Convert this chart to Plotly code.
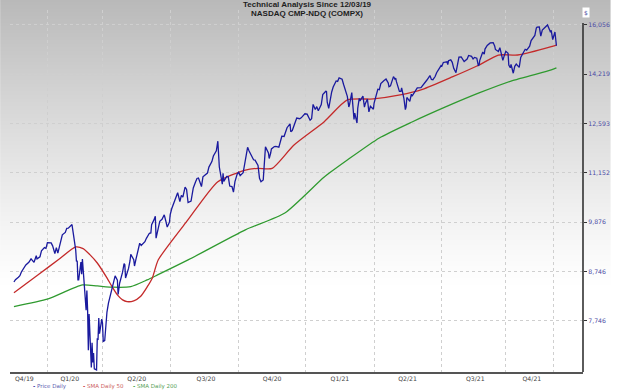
import zlib, struct, base64
import plotly.graph_objects as go

# ---------------- data ----------------
price_dates = [
    "2019-12-03","2019-12-05","2019-12-09","2019-12-11","2019-12-13","2019-12-17","2019-12-19","2019-12-23","2019-12-26","2019-12-30",
    "2020-01-02","2020-01-03","2020-01-07","2020-01-09","2020-01-13","2020-01-15","2020-01-17","2020-01-22","2020-01-24","2020-01-27","2020-01-29","2020-01-31",
    "2020-02-04","2020-02-06","2020-02-10","2020-02-12","2020-02-14","2020-02-19","2020-02-21","2020-02-24","2020-02-25","2020-02-26","2020-02-27","2020-02-28",
    "2020-03-02","2020-03-03","2020-03-04","2020-03-05","2020-03-06","2020-03-09","2020-03-10","2020-03-11","2020-03-12","2020-03-13","2020-03-16","2020-03-17","2020-03-18","2020-03-19","2020-03-20","2020-03-23","2020-03-24","2020-03-25","2020-03-26","2020-03-27","2020-03-30","2020-03-31",
    "2020-04-01","2020-04-03","2020-04-06","2020-04-08","2020-04-09","2020-04-14","2020-04-17","2020-04-20","2020-04-21","2020-04-23","2020-04-27","2020-04-29","2020-04-30",
    "2020-05-01","2020-05-05","2020-05-07","2020-05-08","2020-05-12","2020-05-13","2020-05-15","2020-05-18","2020-05-20","2020-05-22","2020-05-27","2020-05-29",
    "2020-06-02","2020-06-04","2020-06-05","2020-06-08","2020-06-10","2020-06-11","2020-06-12","2020-06-16","2020-06-19","2020-06-22","2020-06-24","2020-06-26","2020-06-29","2020-06-30",
    "2020-07-02","2020-07-06","2020-07-09","2020-07-10","2020-07-13","2020-07-15","2020-07-17","2020-07-20","2020-07-22","2020-07-23","2020-07-24","2020-07-28","2020-07-30","2020-07-31",
    "2020-08-03","2020-08-05","2020-08-07","2020-08-11","2020-08-13","2020-08-17","2020-08-19","2020-08-21","2020-08-25","2020-08-27","2020-08-31",
    "2020-09-02","2020-09-03","2020-09-04","2020-09-08","2020-09-09","2020-09-10","2020-09-14","2020-09-16","2020-09-18","2020-09-21","2020-09-23","2020-09-25","2020-09-28","2020-09-30",
    "2020-10-02","2020-10-06","2020-10-08","2020-10-12","2020-10-14","2020-10-16","2020-10-20","2020-10-22","2020-10-26","2020-10-28","2020-10-30",
    "2020-11-02","2020-11-04","2020-11-05","2020-11-09","2020-11-10","2020-11-12","2020-11-13","2020-11-17","2020-11-19","2020-11-23","2020-11-25","2020-11-27","2020-11-30",
    "2020-12-02","2020-12-04","2020-12-08","2020-12-09","2020-12-11","2020-12-15","2020-12-17","2020-12-21","2020-12-23","2020-12-28","2020-12-31",
    "2021-01-04","2021-01-06","2021-01-08","2021-01-11","2021-01-13","2021-01-15","2021-01-19","2021-01-21","2021-01-25","2021-01-26","2021-01-27","2021-01-29",
    "2021-02-02","2021-02-04","2021-02-08","2021-02-10","2021-02-12","2021-02-16","2021-02-18","2021-02-22","2021-02-23","2021-02-25","2021-02-26",
    "2021-03-01","2021-03-03","2021-03-04","2021-03-05","2021-03-08","2021-03-09","2021-03-11","2021-03-12","2021-03-16","2021-03-18","2021-03-19","2021-03-22","2021-03-24","2021-03-26","2021-03-30","2021-03-31",
    "2021-04-05","2021-04-07","2021-04-09","2021-04-13","2021-04-15","2021-04-16","2021-04-19","2021-04-20","2021-04-22","2021-04-26","2021-04-28","2021-04-29","2021-04-30",
    "2021-05-04","2021-05-06","2021-05-07","2021-05-10","2021-05-12","2021-05-13","2021-05-14","2021-05-18","2021-05-20","2021-05-21","2021-05-25","2021-05-27","2021-05-28",
    "2021-06-02","2021-06-04","2021-06-08","2021-06-10","2021-06-14","2021-06-16","2021-06-18","2021-06-21","2021-06-23","2021-06-25","2021-06-29","2021-06-30",
    "2021-07-02","2021-07-07","2021-07-08","2021-07-09","2021-07-12","2021-07-14","2021-07-16","2021-07-19","2021-07-21","2021-07-23","2021-07-26","2021-07-28","2021-07-30",
    "2021-08-03","2021-08-05","2021-08-09","2021-08-11","2021-08-13","2021-08-16","2021-08-18","2021-08-19","2021-08-20","2021-08-24","2021-08-26","2021-08-27","2021-08-30",
    "2021-09-01","2021-09-03","2021-09-07","2021-09-09","2021-09-10","2021-09-14","2021-09-16","2021-09-17","2021-09-20","2021-09-22","2021-09-24","2021-09-27","2021-09-28","2021-09-30",
    "2021-10-01","2021-10-04","2021-10-06","2021-10-08","2021-10-12","2021-10-14","2021-10-18","2021-10-20","2021-10-22","2021-10-26","2021-10-28","2021-10-29",
    "2021-11-02","2021-11-04","2021-11-05","2021-11-08","2021-11-10","2021-11-12","2021-11-16","2021-11-18","2021-11-19","2021-11-22","2021-11-23","2021-11-24","2021-11-26","2021-11-29","2021-11-30",
    "2021-12-01",
]
price_values = [
    8521,8570,8622,8654,8735,8823,8887,8946,9022,8945,
    9092,9021,9068,9203,9274,9259,9389,9383,9315,9139,9275,9151,
    9467,9572,9628,9726,9731,9817,9577,9221,8966,8980,8567,8567,
    8952,8684,9019,8738,8576,7950,8344,7953,7201,7875,6904,7335,6989,7150,6880,6861,7418,7384,7798,7502,7774,7700,
    7360,7373,7913,8090,8153,8516,8650,8561,8263,8495,8730,8915,8890,
    8605,8810,8980,9121,9002,8863,9014,9235,9375,9325,9412,9490,
    9608,9616,9814,9924,10020,9493,9589,9895,9946,10056,9909,9757,9875,10059,
    10207,10433,10547,10617,10391,10550,10503,10767,10706,10462,10363,10402,10588,10745,
    10903,10998,11011,10782,11042,11129,11146,11311,11466,11625,11775,
    12056,11458,11313,10847,11142,10919,11056,11050,10794,10779,10633,10914,11118,11168,
    11076,11154,11420,11876,11768,11672,11517,11506,11358,11005,10912,
    10958,11591,11890,11713,11554,11710,11829,11899,11905,11880,12094,12206,12199,
    12349,12464,12582,12339,12378,12595,12765,12743,12771,12900,12888,
    12698,12741,13202,13036,13128,12998,13197,13530,13635,13626,13271,13070,
    13612,13777,13988,13973,14095,14047,13865,13533,13465,13119,13192,
    13589,12998,12723,12920,12609,13073,13398,13320,13472,13116,13215,13378,12962,13139,13046,13247,
    13705,13688,13900,13997,14039,14052,13915,13787,13818,14138,14051,14082,13962,
    13633,13633,13752,13402,13032,13124,13430,13303,13536,13471,13657,13736,13749,
    13756,13814,13925,14020,14175,14040,14030,14141,14272,14361,14528,14504,
    14639,14665,14560,14701,14733,14645,14428,14275,14632,14837,14840,14763,14673,
    14761,14895,14860,14765,14823,14793,14526,14541,14715,15019,14946,15130,15265,
    15310,15363,15374,15248,15115,15037,15182,15044,14714,14896,15048,14970,14546,14449,
    14567,14256,14502,14580,14465,14824,15022,15122,15090,15236,15449,15498,
    15650,15940,15972,15982,15622,15860,15974,15994,16056,15854,15775,15846,15491,15782,15538,
    15254,
]

sma50_dates = [
    "2019-12-03","2020-01-05","2020-02-01","2020-02-24","2020-03-05","2020-03-14","2020-03-24",
    "2020-04-06","2020-04-13","2020-04-20","2020-04-27","2020-05-03","2020-05-12","2020-05-21",
    "2020-05-30","2020-06-06","2020-06-14","2020-07-24","2020-09-02","2020-10-09","2020-10-26",
    "2020-11-14","2020-12-13","2021-01-23","2021-02-23","2021-03-30","2021-05-05","2021-06-04",
    "2021-07-14","2021-08-19","2021-09-14","2021-10-10","2021-11-24","2021-12-01",
]
sma50_values = [
    8300,8680,9005,9290,9250,9115,8930,
    8607,8418,8255,8153,8118,8133,8220,
    8418,8607,9000,9935,10911,11230,11277,
    11277,11937,12651,13347,13380,13512,13700,
    14125,14549,14911,14911,15220,15283,
]

sma200_dates = [
    "2019-12-03","2020-01-18","2020-03-04","2020-03-24","2020-04-15","2020-05-08","2020-05-30",
    "2020-06-13","2020-07-24","2020-10-09","2020-12-01","2021-01-23","2021-02-23","2021-04-07",
    "2021-05-21","2021-07-05","2021-08-19","2021-10-01","2021-11-24","2021-12-01",
]
sma200_values = [
    8020,8173,8460,8438,8412,8424,8565,
    8671,8997,9690,10101,11039,11511,12153,
    12642,13119,13579,13985,14371,14442,
]

quarter_labels = ["Q4/19","Q1/20","Q2/20","Q3/20","Q4/20","Q1/21","Q2/21","Q3/21","Q4/21"]
quarter_label_dates = ["2019-12-17","2020-02-16","2020-05-16","2020-08-17","2020-11-14",
                       "2021-02-13","2021-05-15","2021-08-14","2021-10-29"]
grid_dates = ["2020-01-17","2020-03-31","2020-06-30","2020-09-30","2020-12-29",
              "2021-03-31","2021-06-30","2021-09-23","2021-11-27"]
y_ticks = [7746, 8746, 9876, 11152, 12593, 14219, 16056]

# ---------------- styling ----------------
W, H = 620, 392
ML, MR, MT, MB = 10, 28, 10, 20
PH = H - MT - MB
PW = W - ML - MR

def py2paper(py):
    return (H - MB - py) / PH

def px2paper(px):
    return (px - ML) / PW

C_PRICE = "#1a1a9e"
C_SMA50 = "#c42a2a"
C_SMA200 = "#2f9a2f"

# vertical grey-to-white background gradient as a 1px-wide PNG
def gradient_png():
    rows = []
    for r in range(H):
        t = max(0.0, 1 - (r + 0.5) / 290.0)
        rows.append(int(round(255 - 70 * t ** 1.2)))
    raw = b"".join(b"\x00" + bytes([v]) for v in rows)

    def chunk(tag, data):
        return (struct.pack(">I", len(data)) + tag + data +
                struct.pack(">I", zlib.crc32(tag + data) & 0xffffffff))

    png = (b"\x89PNG\r\n\x1a\n" +
           chunk(b"IHDR", struct.pack(">IIBBBBB", 1, H, 8, 0, 0, 0, 0)) +
           chunk(b"IDAT", zlib.compress(raw)) + chunk(b"IEND", b""))
    return "data:image/png;base64," + base64.b64encode(png).decode()

fig = go.Figure()
fig.add_trace(go.Scatter(x=sma200_dates, y=sma200_values, mode="lines", line=dict(color=C_SMA200, width=1.3, shape="spline", smoothing=0.6), name="SMA Daily 200"))
fig.add_trace(go.Scatter(x=sma50_dates, y=sma50_values, mode="lines", line=dict(color=C_SMA50, width=1.3, shape="spline", smoothing=0.6), name="SMA Daily 50"))
fig.add_trace(go.Scatter(x=price_dates, y=price_values, mode="lines", line=dict(color=C_PRICE, width=1.3), name="Price Daily"))

shapes = [dict(type="line", xref="paper", yref="paper", x0=1, x1=1,
               y0=0, y1=py2paper(23), line=dict(color="#333333", width=1.6))]

images = [dict(source=gradient_png(), xref="paper", yref="paper",
               x=px2paper(0), y=py2paper(0), sizex=W / PW, sizey=H / PH,
               xanchor="left", yanchor="top", sizing="stretch", layer="below")]

annotations = [
    dict(text="<b>Technical Analysis Since 12/03/19</b>", xref="paper", yref="paper",
         x=px2paper(312), y=py2paper(4.7), xanchor="center", yanchor="middle", showarrow=False,
         font=dict(family="Liberation Sans, Arial", size=8, color="#1e1e1e")),
    dict(text="<b>NASDAQ CMP-NDQ (COMPX)</b>", xref="paper", yref="paper",
         x=px2paper(312), y=py2paper(14), xanchor="center", yanchor="middle", showarrow=False,
         font=dict(family="Liberation Sans, Arial", size=8, color="#1e1e1e")),
    dict(text="$", xref="paper", yref="paper", x=px2paper(595), y=py2paper(12.5),
         xanchor="center", yanchor="middle", showarrow=False, bgcolor="white",
         font=dict(family="DejaVu Sans", size=6, color="#4b4ba5"), borderpad=1),
]
legend_items = [("Price Daily", C_PRICE, "#6060b0", 31),
                ("SMA Daily 50", C_SMA50, "#cc6060", 82),
                ("SMA Daily 200", C_SMA200, "#55a055", 133)]
for label, c, tc, xpx in legend_items:
    annotations.append(dict(
        text=f"<span style='color:{c}'><b>-</b></span> <span style='color:{tc}'>{label}</span>",
        xref="paper", yref="paper", x=px2paper(xpx), y=py2paper(386.5),
        xanchor="left", yanchor="middle", showarrow=False,
        font=dict(family="DejaVu Sans", size=5.5)))

fig.update_layout(
    width=W, height=H, autosize=False,
    margin=dict(l=ML, r=MR, t=MT, b=MB, pad=0),
    paper_bgcolor="white", plot_bgcolor="rgba(0,0,0,0)",
    showlegend=False,
    shapes=shapes, annotations=annotations, images=images,
    xaxis=dict(
        type="date", range=["2019-11-27 17:00", "2022-01-05 17:00"],
        tickmode="array", tickvals=quarter_label_dates, ticktext=quarter_labels,
        ticks="", showgrid=False, zeroline=False,
        showline=True, linecolor="#555555", linewidth=1.6,
        tickfont=dict(family="DejaVu Sans", size=6.2, color="#444444"),
        minor=dict(tickmode="array", tickvals=grid_dates, showgrid=True,
                   gridcolor="#cfcfcf", griddash="dot", gridwidth=1, ticks=""),
    ),
    yaxis=dict(
        type="log", range=[3.83413, 4.22169], side="right",
        tickmode="array", tickvals=y_ticks, ticktext=[f"{v:,}" for v in y_ticks],
        showgrid=True, gridcolor="#cfcfcf", griddash="dot", gridwidth=1,
        ticks="outside", ticklen=3, tickcolor="#333333", tickwidth=1,
        showline=False, zeroline=False,
        tickfont=dict(family="DejaVu Sans", size=6.2, color="#4b4ba5"),
    ),
)

fig.write_html("out.html", config={"displayModeBar": False, "staticPlot": True},
               post_script="document.body.style.margin='0px';")
